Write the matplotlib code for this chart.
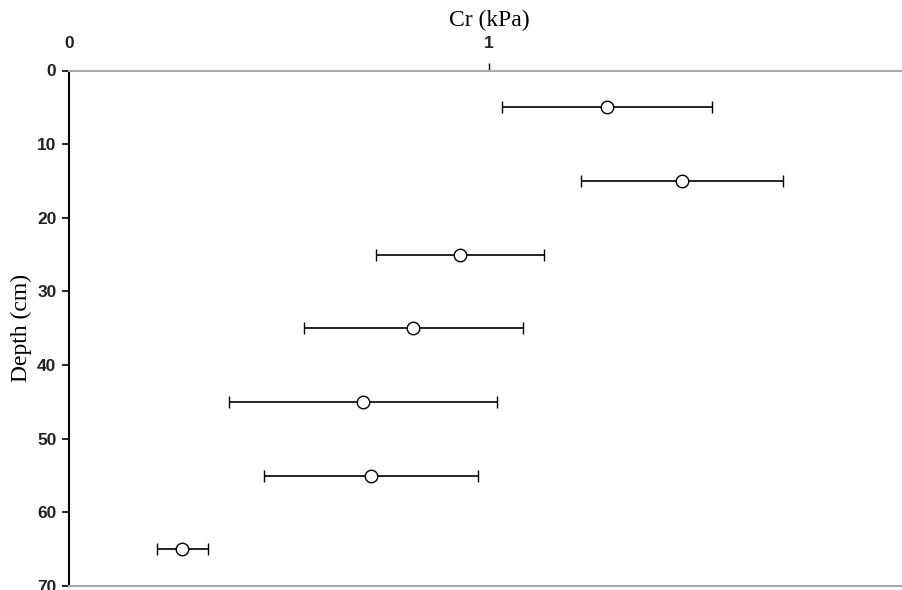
import numpy as np
import matplotlib
matplotlib.use('Agg')
import matplotlib.pyplot as plt

# Data
depth = [5, 15, 25, 35, 45, 55, 65]
cr_mean = [1.28, 1.46, 0.93, 0.82, 0.70, 0.72, 0.27]
cr_err = [0.25, 0.24, 0.20, 0.26, 0.32, 0.255, 0.06]
x_ticks = [0, 1, 2]
y_ticks = [0, 10, 20, 30, 40, 50, 60, 70]

fig = plt.figure(figsize=(9.03, 5.90), dpi=100)
ax = fig.add_axes([69 / 903, 1 - 586 / 590, 840 / 903, (586 - 70.5) / 590])

ax.errorbar(cr_mean, depth, xerr=cr_err, fmt='o', color='black',
            mfc='white', mec='black', ms=9, mew=1.0,
            elinewidth=1.2, capsize=4, capthick=1.2, zorder=3)

ax.set_xlim(0, 2)
ax.set_ylim(70, 0)
ax.set_xticks(x_ticks)
ax.set_yticks(y_ticks)
ax.xaxis.tick_top()
ax.xaxis.set_label_position('top')

for lab in ax.get_xticklabels() + ax.get_yticklabels():
    lab.set_fontfamily('Liberation Sans')
    lab.set_fontweight('bold')
    lab.set_fontsize(12.5)
    lab.set_color('#222222')

ax.tick_params(axis='x', direction='out', length=6, width=1, pad=8, color='black')
ax.tick_params(axis='y', direction='out', length=5, width=1.2, pad=4, color='black')
# no visible tick mark at x = 0 in the reference
ax.xaxis.get_major_ticks()[0].tick2line.set_visible(False)

ax.spines['right'].set_visible(False)
ax.spines['top'].set_color('#aaaaaa')
ax.spines['top'].set_linewidth(1.5)
ax.spines['bottom'].set_color('#aaaaaa')
ax.spines['bottom'].set_linewidth(1.5)
ax.spines['left'].set_color('black')
ax.spines['left'].set_linewidth(1.5)

ax.set_xlabel('Cr (kPa)', fontfamily='Liberation Serif', fontsize=17, va='center')
ax.xaxis.set_label_coords(0.5, 1 + 50.5 / 515.5)
ax.set_ylabel('Depth (cm)', fontfamily='Liberation Serif', fontsize=17, labelpad=4)

fig.savefig('out.png', dpi=100)
